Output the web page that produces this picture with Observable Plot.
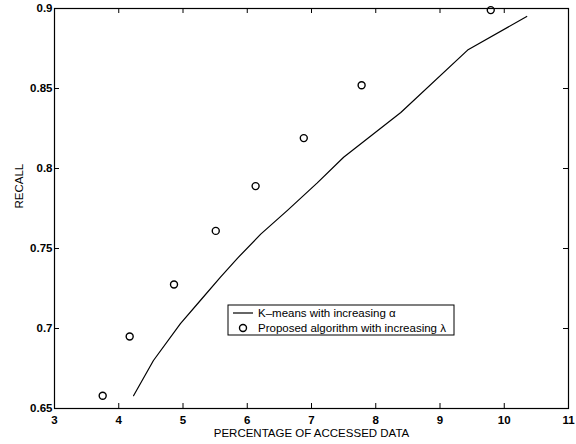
<!DOCTYPE html>
<html>
<head>
<meta charset="utf-8">
<script src="https://cdn.jsdelivr.net/npm/d3@7"></script>
<script src="https://cdn.jsdelivr.net/npm/@observablehq/plot@0.6"></script>
<style>
  html, body { margin: 0; padding: 0; background: #fff; }
  #chart svg { display: block; }
  #chart svg text.numtick { font-weight: bold; }
</style>
</head>
<body>
<div id="chart"></div>
<script>
// K-means with increasing alpha (line)
const kmeansX = [4.23, 4.54, 4.96, 5.27, 5.58, 5.85, 6.21, 6.63, 7.09, 7.50, 8.39, 9.43, 10.35];
const kmeansY = [0.658, 0.680, 0.703, 0.7175, 0.732, 0.744, 0.759, 0.774, 0.791, 0.807, 0.835, 0.874, 0.895];
// Proposed algorithm with increasing lambda (circles)
const proposedX = [3.75, 4.17, 4.86, 5.51, 6.13, 6.88, 7.78, 9.79];
const proposedY = [0.658, 0.695, 0.7275, 0.761, 0.789, 0.819, 0.852, 0.899];

const xTicks = [3, 4, 5, 6, 7, 8, 9, 10, 11];
const yTicks = [0.65, 0.7, 0.75, 0.8, 0.85, 0.9];
const xLabel = "PERCENTAGE OF ACCESSED DATA";
const yLabel = "RECALL";
const legendLabels = ["K\u2013means with increasing \u03b1", "Proposed algorithm with increasing \u03bb"];

const kmeans = kmeansX.map((x, i) => ({x, y: kmeansY[i]}));
const proposed = proposedX.map((x, i) => ({x, y: proposedY[i]}));

const W = 576, H = 444;
const mL = 54, mR = 8, mT = 8, mB = 36;
const innerW = W - mL - mR, innerH = H - mT - mB;
const tickLen = 5;
const FONT = "'Liberation Sans', Arial, Helvetica, sans-serif";

const chart = Plot.plot({
  width: W,
  height: H,
  marginLeft: mL,
  marginRight: mR,
  marginTop: mT,
  marginBottom: mB,
  style: {fontFamily: FONT, fontSize: "11.5px", color: "black", background: "white"},
  x: {domain: [3, 11]},
  y: {domain: [0.65, 0.9]},
  marks: [
    Plot.axisX({ticks: xTicks, tickSize: 0, tickPadding: 7, label: null, fontSize: 11.5, fill: "black"}),
    Plot.axisY({ticks: yTicks, tickSize: 0, tickPadding: 2, label: null, fontSize: 11.5, fill: "black",
      tickFormat: d => String(+d.toFixed(2))}),
    // inward ticks on all four sides
    Plot.tickX(xTicks, {x: d => d, insetTop: innerH - tickLen, stroke: "black"}),
    Plot.tickX(xTicks, {x: d => d, insetBottom: innerH - tickLen, stroke: "black"}),
    Plot.tickY(yTicks, {y: d => d, insetRight: innerW - tickLen, stroke: "black"}),
    Plot.tickY(yTicks, {y: d => d, insetLeft: innerW - tickLen, stroke: "black"}),
    Plot.frame({stroke: "black", strokeWidth: 1.2}),
    Plot.line(kmeans, {x: "x", y: "y", stroke: "black", strokeWidth: 1.2}),
    Plot.dot(proposed, {x: "x", y: "y", r: 3.5, stroke: "black", strokeWidth: 1.4, fill: "none"}),
    Plot.text([xLabel], {frameAnchor: "bottom", dy: 28, fontSize: 11.5, fill: "black"}),
    Plot.text([yLabel], {frameAnchor: "left", dx: -35, rotate: -90, fontSize: 11.5, fill: "black"})
  ]
});

const svg = d3.select(chart);
// bold numeric tick labels, as in the scanned figure
svg.selectAll("text").each(function() {
  const t = (this.textContent || "").trim();
  if (/^[0-9.]+$/.test(t)) {
    this.setAttribute("class", ((this.getAttribute("class") || "") + " numtick").trim());
    this.setAttribute("font-weight", "bold");
    this.style.fontWeight = "bold";
  }
});

// Legend box drawn inside the plot SVG
const lg = svg.append("g").attr("font-family", FONT).attr("font-size", 11.5).attr("text-anchor", "start");
lg.append("rect").attr("x", 228).attr("y", 305).attr("width", 226).attr("height", 30)
  .attr("fill", "white").attr("stroke", "black").attr("stroke-width", 1);
lg.append("line").attr("x1", 233).attr("x2", 253).attr("y1", 313).attr("y2", 313)
  .attr("stroke", "black").attr("stroke-width", 1.2);
lg.append("circle").attr("cx", 243).attr("cy", 328).attr("r", 3.5)
  .attr("fill", "none").attr("stroke", "black").attr("stroke-width", 1.4);
lg.append("text").attr("x", 258).attr("y", 313).attr("dy", "0.35em").attr("fill", "black")
  .attr("text-anchor", "start").text(legendLabels[0]);
lg.append("text").attr("x", 258).attr("y", 328).attr("dy", "0.35em").attr("fill", "black")
  .attr("text-anchor", "start").text(legendLabels[1]);

document.getElementById("chart").appendChild(chart);
</script>
</body>
</html>
